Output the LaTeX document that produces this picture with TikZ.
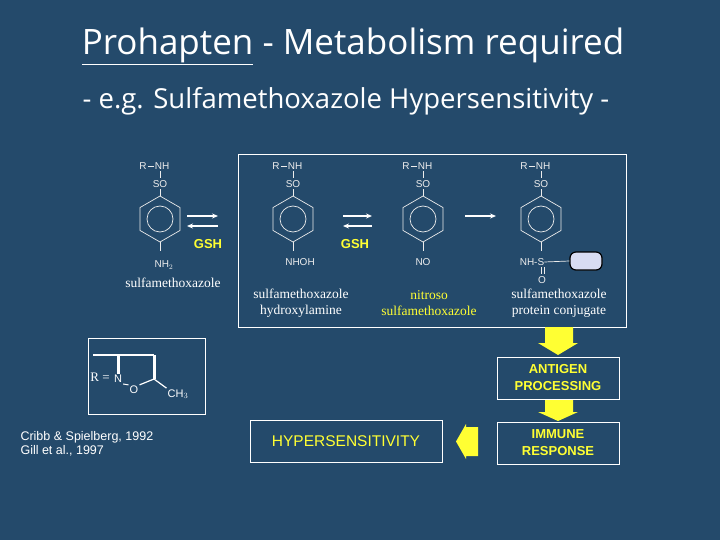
\documentclass[tikz,border=0pt]{standalone}
\usepackage{fontspec}
\setmainfont{Liberation Serif}
\newfontfamily\osans{Open Sans}
\newfontfamily\asans{Liberation Sans}
\usetikzlibrary{arrows.meta}
\definecolor{bg}{HTML}{244A6B}
\definecolor{yel}{HTML}{FFFF33}
\definecolor{pill}{HTML}{D8DCF2}
\newcommand{\benz}[2]{%
 \draw[chem] (#1,#2) ++(90:23) -- ++(-30:23) -- ++(-90:23) -- ++(-150:23) -- ++(150:23) -- ++(90:23) -- cycle;
 \draw[chem] (#1,#2) circle (13);
 \draw[chem] (#1,#2-23) -- (#1,#2-30);
 \draw[chem] (#1,#2+23) -- (#1,#2+32);
 \draw[chem] (#1,#2-48) -- (#1,#2-41);
 \node[chtxt] at (#1-17,#2-53) {R};
 \draw[chem] (#1-12,#2-53) -- (#1-6,#2-53);
 \node[chtxt] at (#1+2,#2-53) {NH};
 \node[chtxt] at (#1,#2-35) {SO};}
\begin{document}
\begin{tikzpicture}[x=1pt,y=-1pt,
 chem/.style={draw=white!85!gray,line width=0.7pt},
 chtxt/.style={text=white!85!gray,font=\asans\fontsize{10}{10}\selectfont,inner sep=0pt},
 nm/.style={text=white,font=\fontsize{13.5}{16}\selectfont,align=center},
 ybox/.style={draw=white,line width=1pt,text=yel,font=\asans\bfseries\fontsize{13}{17}\selectfont,align=center},
 eq/.style={white,line width=1.5pt,-{Stealth[length=6pt,width=5pt]}}]
\fill[bg] (0,0) rectangle (720,540);
\useasboundingbox (0,0) rectangle (720,540);
\node[white,font=\osans\fontsize{35}{40}\selectfont] (t1) at (353,46) {\underline{Prohapten} - Metabolism required};
\node[white,font=\osans\fontsize{27.5}{32}\selectfont] (t2) at (346,101) {- e.g. Sulfamethoxazole Hypersensitivity -};
\draw[white,line width=1pt] (238,155) rectangle (626,327);
\benz{160}{219}\benz{293}{219}\benz{423}{219}\benz{541}{219}
\node[chtxt] at (164,265) {NH$_2$};
\node[chtxt] at (300,262) {NHOH};
\node[chtxt] at (423,262) {NO};
\node[chtxt] (nhs) at (532,262) {NH-S};
\draw[chem] (541,267) -- (541,274); \draw[chem] (544,267) -- (544,274);
\node[chtxt] at (542,280) {O};
\node[draw=black,line width=1.2pt,fill=pill,rounded corners=6pt,minimum width=32pt,minimum height=18pt,inner sep=0pt] (pr) at (586,261) {};
\draw[chem] (nhs.east) -- (pr.west);
\draw[eq] (187,216) -- (218,216); \draw[eq] (218,226) -- (187,226);
\draw[eq] (343,216) -- (372,216); \draw[eq] (372,226) -- (343,226);
\draw[eq] (465,216) -- (496,216);
\node[text=yel,font=\asans\bfseries\fontsize{13}{14}\selectfont] (g1) at (208,244) {GSH};
\node[text=yel,font=\asans\bfseries\fontsize{13}{14}\selectfont] (g2) at (355,244) {GSH};
\node[nm] (n1) at (173,283) {sulfamethoxazole};
\node[nm] (n2) at (301,303) {sulfamethoxazole\\hydroxylamine};
\node[nm,text=yel] (n3) at (429,303) {nitroso\\sulfamethoxazole};
\node[nm] (n4) at (559,303) {sulfamethoxazole\\protein conjugate};
% R box
\draw[white,line width=0.8pt] (88,338) rectangle (205,414);
\node[white,font=\fontsize{13}{14}\selectfont] (r) at (100,377) {R =};
\node[white,font=\asans\fontsize{11}{12}\selectfont,inner sep=1pt] (nN) at (118,379) {N};
\node[white,font=\asans\fontsize{11}{12}\selectfont,inner sep=1pt] (nO) at (134,390) {O};
\node[white,font=\asans\fontsize{11}{12}\selectfont,inner sep=1pt] (nC) at (178,394) {CH$_3$};
\coordinate (c1) at (118,355); \coordinate (c2) at (154,355); \coordinate (c3) at (154,379);
\draw[white,line width=1.8pt] (93,355) -- (c2);
\draw[white,line width=3pt] (c1) -- (nN.north);
\draw[white,line width=3pt] (c2) -- (c3);
\draw[white,line width=1pt] (nN.south east) -- (nO.north west);
\draw[white,line width=1.2pt] (nO.north east) -- (c3) -- (nC.north west);
\node[white,font=\asans\fontsize{12.5}{14}\selectfont,align=left,anchor=west] (cit) at (17,444) {Cribb \& Spielberg, 1992\\Gill et al., 1997};
\node[ybox,font=\asans\fontsize{15.5}{17}\selectfont,minimum width=192pt,minimum height=42pt] (hyp) at (346,441) {HYPERSENSITIVITY};
\node[ybox,minimum width=122pt,minimum height=42pt] (ag) at (558,378) {ANTIGEN\\PROCESSING};
\node[ybox,minimum width=122pt,minimum height=42pt] (im) at (558,443) {IMMUNE\\RESPONSE};
\fill[yel] (545,327) -- (573,327) -- (573,343) -- (578,343) -- (558,355) -- (538,343) -- (545,343) -- cycle;
\fill[yel] (545,400) -- (573,400) -- (573,412) -- (578,412) -- (558,421) -- (538,412) -- (545,412) -- cycle;
\fill[yel] (478,427) -- (478,456) -- (466,456) -- (466,459) -- (456,441.5) -- (466,424) -- (466,427) -- cycle;
\end{tikzpicture}
\end{document}
